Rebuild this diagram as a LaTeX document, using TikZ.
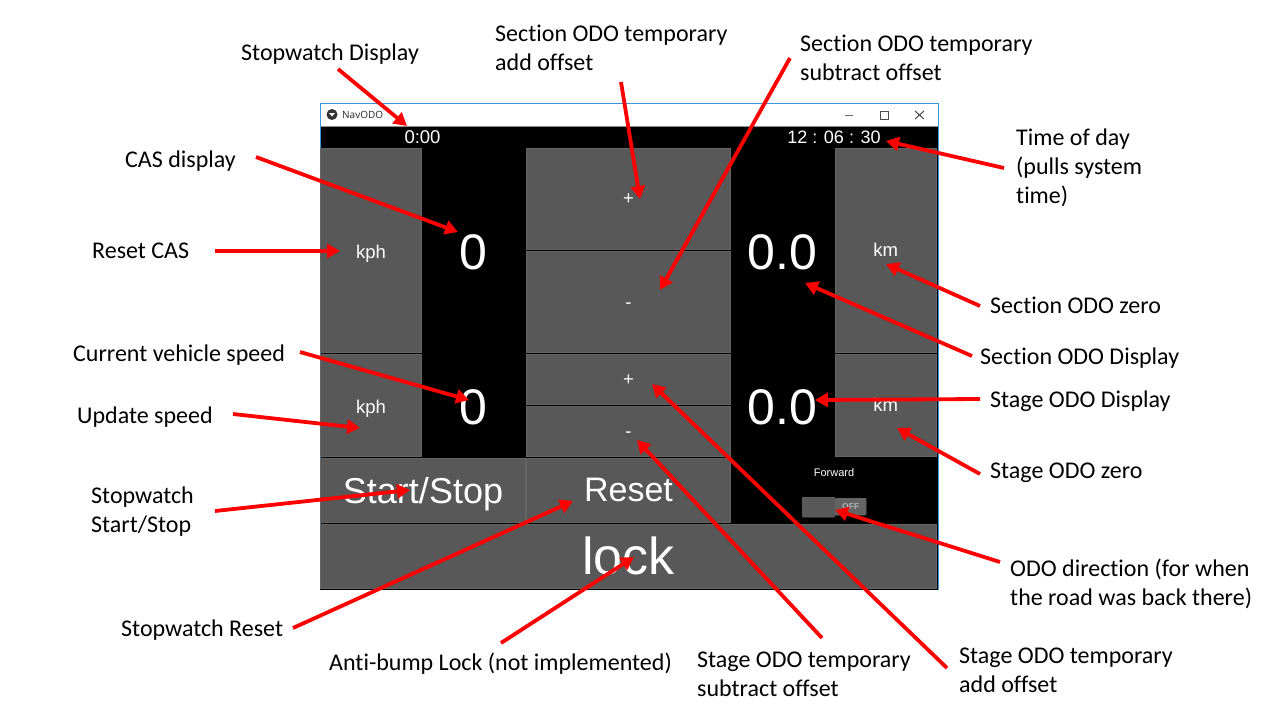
\documentclass[tikz,border=0pt]{standalone}
\usepackage{fontspec}
\setmainfont{Carlito}[RawFeature={-liga}]
\newfontfamily\robo{Liberation Sans}
\newfontfamily\segoe{Open Sans}
\usetikzlibrary{arrows.meta}
\definecolor{btn}{HTML}{585858}
\definecolor{btnedge}{HTML}{646464}
\definecolor{winblue}{HTML}{3C96DC}
\tikzset{
  x=1pt,y=-1pt,
  lbl/.style={anchor=west,inner sep=0pt,align=left,font=\fontsize{24}{29}\selectfont,text=black},
  btnbox/.style={draw=btnedge,line width=0.8pt,fill=btn,anchor=north west,inner sep=0pt,outer sep=0pt,text=white,font=\robo},
  btnsmall/.style={btnbox,font=\robo\fontsize{18.5}{18.5}\selectfont,text depth=0pt},
  callout/.style={draw=red,line width=3.8pt,-{Triangle[length=13pt,width=14pt]}},
  disp/.style={text=white,inner sep=0pt,font=\robo\fontsize{50}{50}\selectfont},
  small/.style={text=white,inner sep=0pt,font=\robo\fontsize{18.5}{18.5}\selectfont},
  ctrl/.style={draw=#1,line width=1pt}
}
\begin{document}
\begin{tikzpicture}
\useasboundingbox (0,0) rectangle (1280,720);
\fill[white] (0,0) rectangle (1280,720);
% window
\draw[winblue,line width=1pt,fill=white] (320,103.5) rectangle (938,589);
\fill[black] (320.5,127) rectangle (937.5,588.5);
\draw[black!45,line width=.6pt] (320.5,126.5) -- (937.5,126.5);
\draw[black,line width=1pt] (320,589) -- (938,589);
% title bar
\fill[black!80] (332,114.5) circle (5.5pt);
\fill[white] (329,113) -- (335,113) -- (332,116.5) -- cycle;
\node[anchor=west,inner sep=0pt,font=\segoe\fontsize{10}{10}\selectfont,text=black!85] (title) at (342,115) {NavODO};
\draw[ctrl=black!60] (845,115) -- (853,115);
\draw[ctrl=black!70] (880,111) rectangle (888,119);
\draw[ctrl=black!70] (915,111) -- (924,119) (924,111) -- (915,119);
% buttons
\node[btnsmall,minimum width=101pt,minimum height=204pt] (kphA) at (320.5,148) {\raisebox{-3pt}{kph}};
\node[btnsmall,minimum width=101pt,minimum height=102pt] (kphB) at (320.5,354) {\raisebox{-3pt}{kph}};
\node[btnsmall,minimum width=204pt,minimum height=101pt] (secPlus) at (526.5,148) {\raisebox{-2pt}{+}};
\node[btnsmall,minimum width=204pt,minimum height=101pt] (secMinus) at (526.5,251) {\raisebox{-7pt}{-}};
\node[btnsmall,minimum width=204pt,minimum height=50pt] (stgPlus) at (526.5,354) {\raisebox{-3pt}{+}};
\node[btnsmall,minimum width=204pt,minimum height=50pt] (stgMinus) at (526.5,406) {\raisebox{-6pt}{-}};
\node[btnsmall,minimum width=101.5pt,minimum height=204pt] (kmA) at (835,148) {km};
\node[btnsmall,minimum width=101.5pt,minimum height=102pt] (kmB) at (835,354) {km};
\node[btnbox,minimum width=205pt,minimum height=64pt,text depth=0pt,font=\robo\fontsize{36}{36}\selectfont] (startstop) at (320.5,458) {Start/Stop};
\node[btnbox,minimum width=204pt,minimum height=64pt,text depth=0pt,font=\robo\fontsize{34}{34}\selectfont] (reset) at (526.5,458) {Reset};
\node[btnbox,minimum width=616pt,minimum height=64pt,font=\robo\fontsize{52}{52}\selectfont] (lock) at (320.5,524) {lock};
% displays
\node[small] (sw) at (422.5,137.5) {0:00};
\node[small,font=\robo\fontsize{18}{18}\selectfont] (tod) at (834,137.5) {12 : 06 : 30};
\node[disp] (cas) at (473.5,252) {0};
\node[disp] (cvs) at (473.5,407) {0};
\node[disp] (sec) at (782.5,252) {0.0};
\node[disp] (stg) at (782.5,407) {0.0};
\node[text=white,inner sep=0pt,font=\robo\fontsize{11}{11}\selectfont] (fwd) at (834,473) {Forward};
\node[draw=btnedge,fill=btnedge,rounded corners=1pt,anchor=north west,inner sep=0pt,minimum width=31pt,minimum height=17pt,text=white!70!black,font=\robo\bfseries\fontsize{8.5}{8.5}\selectfont] (off) at (835,498) {OFF};
\node[draw=btnedge,fill=btn,rounded corners=1pt,anchor=north west,inner sep=0pt,minimum width=33pt,minimum height=20pt] (knob) at (802,497) {};
% labels
\node[lbl] (lSwD) at (241,54) {Stopwatch Display};
\node[lbl] (lSecAdd) at (495,48) {Section ODO temporary\\add offset};
\node[lbl] (lSecSub) at (800,58) {Section ODO temporary\\subtract offset};
\node[lbl] (lCas) at (125,161) {CAS display};
\node[lbl] (lResetCas) at (92,250.5) {Reset CAS};
\node[lbl] (lTod) at (1016,168) {Time of day\\(pulls system\\time)};
\node[lbl] (lSecZero) at (990,305) {Section ODO zero};
\node[lbl] (lSecDisp) at (980,358) {Section ODO Display};
\node[lbl] (lStgDisp) at (990,401) {Stage ODO Display};
\node[lbl] (lStgZero) at (990,473) {Stage ODO zero};
\node[lbl] (lCvs) at (73,355) {Current vehicle speed};
\node[lbl] (lUpd) at (77,417) {Update speed};
\node[lbl] (lSwSS) at (91,512) {Stopwatch\\Start/Stop};
\node[lbl] (lSwR) at (121,630) {Stopwatch Reset};
\node[lbl] (lLock) at (329,664) {Anti-bump Lock (not implemented)};
\node[lbl] (lStgSub) at (697,674) {Stage ODO temporary\\subtract offset};
\node[lbl] (lStgAdd) at (959,670) {Stage ODO temporary\\add offset};
\node[lbl] (lDir) at (1010,584) {ODO direction (for when\\the road was back there)};
% connector ends
\coordinate (a1) at (338,69);   \coordinate (b1) at (407,126);
\coordinate (a2) at (621,82);   \coordinate (b2) at (640,199);
\coordinate (a3) at (790,58);   \coordinate (b3) at (660,290);
\coordinate (a4) at (256,157);  \coordinate (b4) at (458,232);
\coordinate (a5) at (215,251);  \coordinate (b5) at (340,251);
\coordinate (a6) at (1004,168); \coordinate (b6) at (886,141);
\coordinate (a7) at (980,306);  \coordinate (b7) at (886,264);
\coordinate (a8) at (972,356);  \coordinate (b8) at (805,283);
\coordinate (a9) at (980,399);  \coordinate (b9) at (815,400);
\coordinate (a10) at (980,474); \coordinate (b10) at (897,428);
\coordinate (a11) at (300,352); \coordinate (b11) at (469,400);
\coordinate (a12) at (233,414); \coordinate (b12) at (360,428);
\coordinate (a13) at (215,511); \coordinate (b13) at (410,490);
\coordinate (a14) at (293,628); \coordinate (b14) at (573,501);
\coordinate (a15) at (501,643); \coordinate (b15) at (634,557);
\coordinate (a16) at (822,638); \coordinate (b16) at (637,440);
\coordinate (a17) at (947,668); \coordinate (b17) at (652,384);
\coordinate (a18) at (1000,562);\coordinate (b18) at (835,510);
\foreach \i in {1,...,18} \draw[callout] (a\i) -- (b\i);
\end{tikzpicture}
\end{document}
